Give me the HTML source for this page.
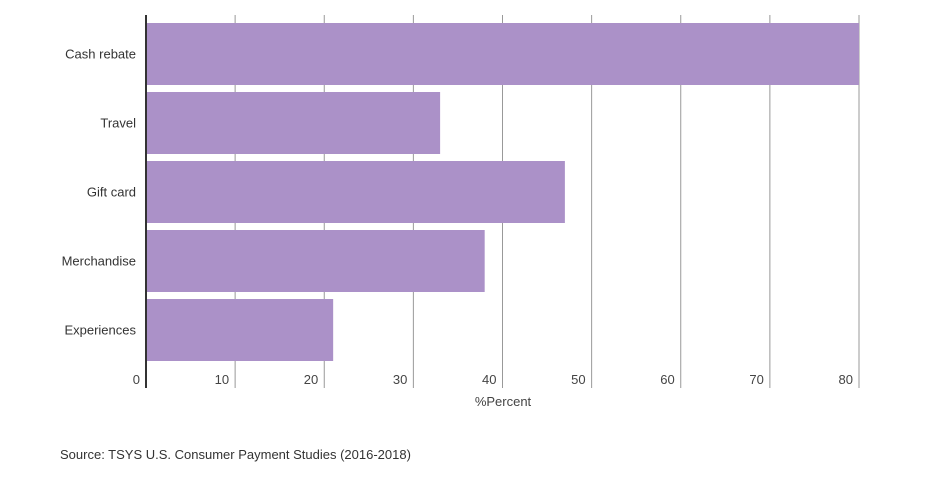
<!DOCTYPE html>
<html><head><meta charset="utf-8"><style>
body{margin:0;background:#fff;font-family:"Liberation Sans",sans-serif;}
svg text{font-family:"Liberation Sans",sans-serif;}
</style></head><body>
<svg id="chart" width="949" height="475" xmlns="http://www.w3.org/2000/svg">
<g id="grid"></g>
<g id="bars"></g>
<g id="ylabels"></g>
<g id="xlabels"></g>
<line x1="146" y1="15" x2="146" y2="388" stroke="#333" stroke-width="2"/>
<text x="503" y="406" font-size="13" fill="#444" text-anchor="middle">%Percent</text>
<text x="60" y="459" font-size="13" fill="#333">Source: TSYS U.S. Consumer Payment Studies (2016-2018)</text>
</svg>
<script>
const categories=["Cash rebate","Travel","Gift card","Merchandise","Experiences"];
const values=[80,33,47,38,21];
const ticks=[0,10,20,30,40,50,60,70,80];
const NS="http://www.w3.org/2000/svg";
const x=v=>146+v*(859-146)/80;
const y=i=>23+i*69;
const bh=62;
function mk(t,a,p){const e=document.createElementNS(NS,t);for(const k in a)e.setAttribute(k,a[k]);p.appendChild(e);return e;}
const g=document.getElementById('grid'),b=document.getElementById('bars'),yl=document.getElementById('ylabels'),xl=document.getElementById('xlabels');
ticks.forEach(t=>{
 if(t>0){const l=mk('line',{x1:x(t),y1:15,x2:x(t),y2:388,stroke:'#999','stroke-width':1},g);
 
 }
 const tx=mk('text',{x:x(t)-6,y:384,'font-size':13,fill:'#444','text-anchor':'end'},xl);
 tx.textContent=t;
 
 
});
categories.forEach((c,i)=>{
 const r=mk('rect',{x:x(0),y:y(i),width:x(values[i])-x(0),height:bh,fill:'#ab91c8'},b);
 
 
 const t=mk('text',{x:136,y:y(i)+bh/2+4.5,'font-size':13,fill:'#333','text-anchor':'end'},yl);
 t.textContent=c;
 
 
});
</script>
</body></html>
